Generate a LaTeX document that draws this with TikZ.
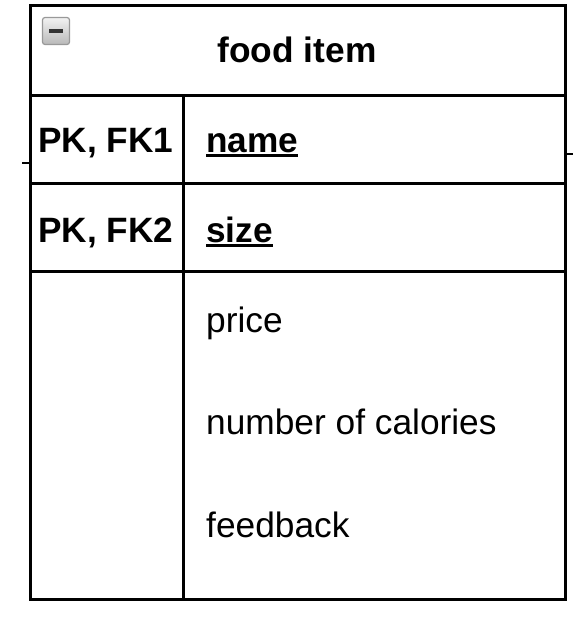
\documentclass[tikz,border=0pt]{standalone}
\usepackage{fontspec}
\setmainfont{Liberation Sans}
\usetikzlibrary{shadings}
\tikzset{
  frame/.style={line width=3pt, draw=black},
  keytext/.style={font=\fontsize{35.2}{40}\selectfont\bfseries, inner sep=0pt, anchor=base west},
  attrtext/.style={font=\fontsize{35.3}{40}\selectfont, inner sep=0pt, anchor=base west},
  titletext/.style={font=\fontsize{35.3}{40}\selectfont\bfseries, inner sep=0pt, anchor=base},
  uline/.style={line width=2.2pt, draw=black},
  stub/.style={line width=2pt, draw=black},
}
\begin{document}
\begin{tikzpicture}[x=1pt, y=-1pt]
\useasboundingbox (0,0) rectangle (579,624);
\fill[white] (0,0) rectangle (579,624);
% stubs of cropped neighbours
\coordinate (ls1) at (22,163);
\coordinate (ls2) at (30,163);
\coordinate (rs1) at (565,154);
\coordinate (rs2) at (573,154);
\draw[stub] (ls1) -- (ls2);
\draw[stub] (rs1) -- (rs2);
% table frame
\coordinate (tl) at (30,5);
\coordinate (br) at (565,599);
\draw[frame] (tl) rectangle (br);
\coordinate (h1l) at (30,95);  \coordinate (h1r) at (565,95);
\coordinate (h2l) at (30,183); \coordinate (h2r) at (565,183);
\coordinate (h3l) at (30,271); \coordinate (h3r) at (565,271);
\coordinate (vt) at (183,95);  \coordinate (vb) at (183,599);
\draw[frame] (h1l) -- (h1r);
\draw[frame] (h2l) -- (h2r);
\draw[frame] (h3l) -- (h3r);
\draw[frame] (vt) -- (vb);
% collapse icon
\node[draw=gray!80, line width=1.2pt, rounded corners=2.5pt, minimum width=27pt, minimum height=27pt,
      top color=gray!10, bottom color=gray!55, inner sep=0pt] (icon) at (56,31) {};
\draw[line width=3.2pt, black!80] ([xshift=-7pt]icon.center) -- ([xshift=7pt]icon.center);
% texts
\node[titletext] (title) at (297,62) {food item};
\node[keytext] (k1) at (38,152) {PK, FK1};
\node[keytext] (k2) at (38,242) {PK, FK2};
\node[keytext] (n1) at (206,152) {name};
\node[keytext] (n2) at (206,242) {size};
\draw[uline] ([yshift=-3.5pt]n1.base west) -- ([yshift=-3.5pt]n1.base east);
\draw[uline] ([yshift=-3.5pt]n2.base west) -- ([yshift=-3.5pt]n2.base east);
\node[attrtext] (a1) at (206,332) {price};
\node[attrtext] (a2) at (206,434) {number of calories};
\node[attrtext] (a3) at (206,537) {feedback};
\end{tikzpicture}
\end{document}
